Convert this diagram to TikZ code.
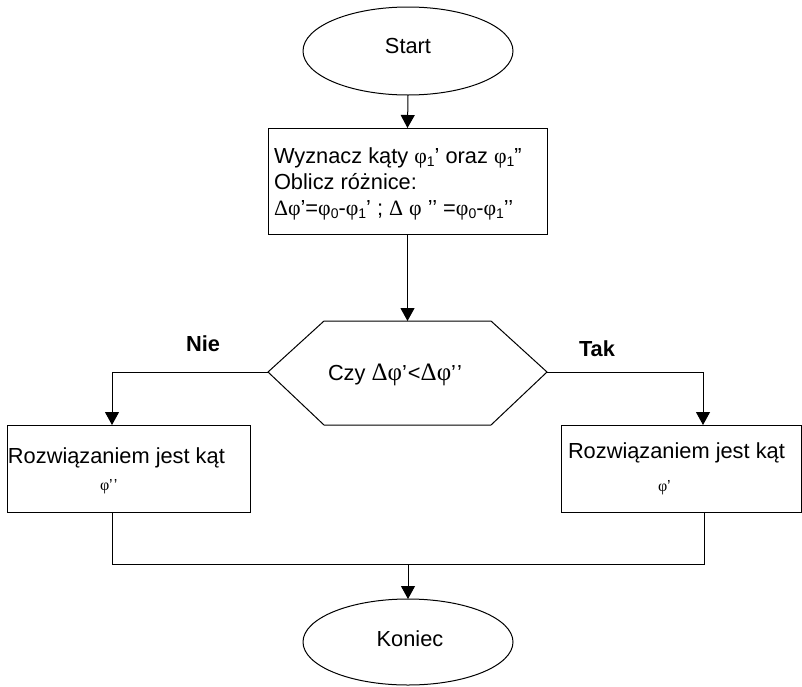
\documentclass[tikz,border=0pt]{standalone}
\usepackage{fontspec}
\setmainfont{Liberation Sans}
\newfontfamily\grk{Liberation Serif}
\usetikzlibrary{arrows.meta,shapes.geometric}
\newcommand\ph{{\grk φ}}
\newcommand\Dl{{\grk Δ}}
\newcommand\bph{{\grk\fontsize{25}{26}\selectfont φ}}
\newcommand\bDl{{\grk\fontsize{25}{26}\selectfont Δ}}
\newcommand\sbs[1]{\raisebox{-0.3ex}{\fontsize{14}{14}\selectfont #1}}
\begin{document}
\begin{tikzpicture}[x=1pt,y=-1pt,
  line width=1pt,
  every node/.style={font=\fontsize{21.8}{26}\selectfont, inner sep=0pt, outer sep=0pt},
  term/.style={draw, ellipse, minimum width=210pt, minimum height=88pt},
  box/.style={draw, rectangle},
  arr/.style={-{Triangle[width=14pt,length=13pt]}},
  lbl/.style={anchor=base west},
  small/.style={anchor=base west, font=\fontsize{16}{18}\selectfont},
  yn/.style={anchor=base, font=\fontsize{21.8}{26}\selectfont\bfseries},
]
\useasboundingbox (0,0) rectangle (802,686);

% terminals
\node[term] (start) at (408,51) {};
\node[anchor=base] (starttxt) at (408,53) {Start};
\node[term, minimum height=86pt] (koniec) at (408,642) {};
\node[anchor=base] (koniectxt) at (410,646) {Koniec};

% process box
\node[box, minimum width=279pt, minimum height=106pt] (calc) at (407.5,181) {};
\node[lbl] (l1) at (274,163) {Wyznacz kąty \ph\sbs{1}’ oraz \ph\sbs{1}”};
\node[lbl] (l2) at (274,189) {Oblicz różnice:};
\node[lbl] (l3) at (274,215) {\Dl\ph’=\ph\sbs{0}-\ph\sbs{1}’ ; \Dl\ \ph\ ’’ =\ph\sbs{0}-\ph\sbs{1}’’};

% decision
\coordinate (hT) at (407.5,321);
\coordinate (hL) at (268,372);
\coordinate (hR) at (547,372);
\draw (324,321) -- (491,321) -- (hR) -- (491,425) -- (324,425) -- (hL) -- cycle;
\node[anchor=base west] (cond) at (328,380) {Czy \bDl\bph’\kern1pt<\bDl\bph’\kern1pt’};

% result boxes
\node[box, minimum width=243pt, minimum height=87pt] (nieBox) at (128.5,468.5) {};
\node[lbl] (nt) at (8,463) {Rozwiązaniem jest kąt};
\node[small] (nphi) at (100,490) {\ph’\kern1pt’};
\node[box, minimum width=240pt, minimum height=87pt] (takBox) at (681,468.5) {};
\node[lbl] (tt) at (568,458) {Rozwiązaniem jest kąt};
\node[small] (tphi) at (658,491) {\ph’};

% labels
\node[yn] (nie) at (203,351) {Nie};
\node[yn] (tak) at (597,356) {Tak};

% connectors
\coordinate (nIn) at (112,425);
\coordinate (tIn) at (703,425);
\coordinate (nOut) at (112,512);
\coordinate (tOut) at (704,512);
\coordinate (join) at (408,564);
\draw[arr] (start.south) -- (calc.north);
\draw[arr] (calc.south) -- (hT);
\draw[arr] (hL) -| (nIn);
\draw[arr] (hR) -| (tIn);
\draw (nOut) |- (join) -| (tOut);
\draw[arr] (join) -- (koniec.north);
\end{tikzpicture}
\end{document}
